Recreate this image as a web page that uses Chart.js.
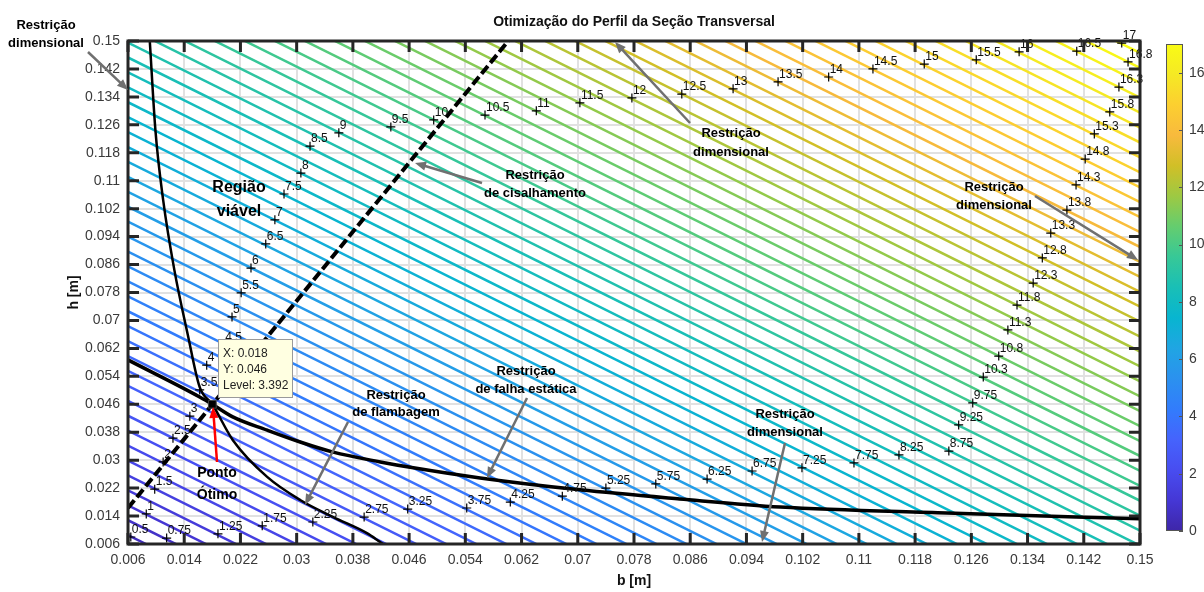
<!DOCTYPE html>
<html>
<head>
<meta charset="utf-8">
<script src="https://cdn.jsdelivr.net/npm/chart.js@4.4.1/dist/chart.umd.min.js"></script>
<style>
  html, body { margin: 0; padding: 0; background: #fff; }
  #wrap { position: relative; width: 1204px; height: 592px; }
  #main { position: absolute; left: 0; top: 0; }
  #cbar { position: absolute; left: 1150px; top: 0; }
</style>
</head>
<body>
<div id="wrap">
  <canvas id="main" width="1204" height="592"></canvas>
  <canvas id="cbar" width="54" height="592"></canvas>
</div>
<script>
// axis ticks
const xTicks = [0.006, 0.014, 0.022, 0.03, 0.038, 0.046, 0.054, 0.062, 0.07, 0.078, 0.086, 0.094, 0.102, 0.11, 0.118, 0.126, 0.134, 0.142, 0.15];
const yTicks = [0.006, 0.014, 0.022, 0.03, 0.038, 0.046, 0.054, 0.062, 0.07, 0.078, 0.086, 0.094, 0.102, 0.11, 0.118, 0.126, 0.134, 0.142, 0.15];
const cbTicks = [0, 2, 4, 6, 8, 10, 12, 14, 16];

// contour levels
const levels = [0.5, 0.75, 1, 1.25, 1.5, 1.75, 2, 2.25, 2.5, 2.75, 3, 3.25, 3.5, 3.75, 4, 4.25, 4.5, 4.75,
  5, 5.25, 5.5, 5.75, 6, 6.25, 6.5, 6.75, 7, 7.25, 7.5, 7.75, 8, 8.25, 8.5, 8.75, 9, 9.25, 9.5, 9.75,
  10, 10.25, 10.5, 10.75, 11, 11.25, 11.5, 11.75, 12, 12.25, 12.5, 12.75, 13, 13.25, 13.5, 13.75,
  14, 14.25, 14.5, 14.75, 15, 15.25, 15.5, 15.75, 16, 16.25, 16.5, 16.75, 17];
// the contoured function is a plane: level = levelSlope * (b + h) + levelOffset
const levelSlope = 58.5;
const levelOffset = -0.35;
const colorMin = 0;
const colorMax = 17;

// contour labels (clabel)
const labelText = ['0.5', '1', '1.5', '2', '2.5', '3', '3.5', '4', '4.5', '5', '5.5', '6', '6.5', '7', '7.5', '8', '8.5', '9',
  '9.5', '10', '10.5', '11', '11.5', '12', '12.5', '13', '13.5', '14', '14.5', '15', '15.5', '16', '16.5', '17',
  '0.75', '1.25', '1.75', '2.25', '2.75', '3.25', '3.75', '4.25', '4.75', '5.25', '5.75', '6.25', '6.75', '7.25', '7.75', '8.25', '8.75',
  '9.25', '9.75', '10.3', '10.8', '11.3', '11.8', '12.3', '12.8', '13.3', '13.8', '14.3', '14.8', '15.3', '15.8', '16.3', '16.8'];
const labelB = [0.0064, 0.0086, 0.0098, 0.0110, 0.0124, 0.0148, 0.0162, 0.0172, 0.0197, 0.0208, 0.0221, 0.0235, 0.0256, 0.0269, 0.0282, 0.0306, 0.0319, 0.0360,
  0.0434, 0.0495, 0.0568, 0.0641, 0.0703, 0.0777, 0.0848, 0.0921, 0.0985, 0.1057, 0.1120, 0.1193, 0.1267, 0.1328, 0.1410, 0.1474,
  0.0115, 0.0188, 0.0251, 0.0323, 0.0396, 0.0458, 0.0542, 0.0604, 0.0678, 0.0740, 0.0811, 0.0884, 0.0948, 0.1019, 0.1093, 0.1157, 0.1228,
  0.1242, 0.1262, 0.1277, 0.1299, 0.1312, 0.1325, 0.1348, 0.1361, 0.1373, 0.1396, 0.1409, 0.1422, 0.1435, 0.1457, 0.1470, 0.1483];
const labelH = [0.0080, 0.0146, 0.0217, 0.0295, 0.0363, 0.0426, 0.0501, 0.0572, 0.0632, 0.0710, 0.0779, 0.0850, 0.0919, 0.0988, 0.1062, 0.1122, 0.1199, 0.1237,
  0.1254, 0.1274, 0.1288, 0.1300, 0.1323, 0.1337, 0.1348, 0.1363, 0.1383, 0.1397, 0.1420, 0.1434, 0.1446, 0.1469, 0.1471, 0.1494,
  0.0077, 0.0089, 0.0112, 0.0123, 0.0137, 0.0160, 0.0163, 0.0180, 0.0197, 0.0220, 0.0232, 0.0246, 0.0269, 0.0278, 0.0292, 0.0315, 0.0326,
  0.0401, 0.0464, 0.0538, 0.0598, 0.0673, 0.0744, 0.0807, 0.0879, 0.0950, 0.1016, 0.1088, 0.1162, 0.1234, 0.1297, 0.1368, 0.1440];

// constraint curves
const shearB = [0.006, 0.0601];
const shearH = [0.0163, 0.15];
const bucklingB = [0.0091, 0.0099, 0.0110, 0.0126, 0.0145, 0.0162, 0.0180, 0.0209, 0.0258, 0.0305, 0.0352, 0.0400, 0.0423, 0.0440];
const bucklingH = [0.1500, 0.1245, 0.1045, 0.0844, 0.0660, 0.0509, 0.0460, 0.0358, 0.0252, 0.0186, 0.0137, 0.0091, 0.0060, 0.0040];
const staticB = [0.006, 0.0162, 0.0180, 0.0209, 0.0258, 0.0305, 0.0352, 0.0419, 0.0466, 0.0561, 0.0703, 0.0845, 0.0988, 0.1225, 0.150];
const staticH = [0.0587, 0.0481, 0.0460, 0.0424, 0.0386, 0.0352, 0.0323, 0.0295, 0.0278, 0.0249, 0.0215, 0.0189, 0.0166, 0.0149, 0.0132];

// optimum
const optB = 0.018;
const optH = 0.046;
const optLevel = 3.392;

// parula colormap stops
const parula = [
  [0.2422, 0.1504, 0.6603], [0.2706, 0.2147, 0.8364], [0.2813, 0.3006, 0.9414], [0.2699, 0.3892, 0.9906],
  [0.1963, 0.4847, 0.9892], [0.1687, 0.5703, 0.9359], [0.1248, 0.6459, 0.8883], [0.0297, 0.7082, 0.8163],
  [0.0964, 0.7500, 0.7120], [0.2161, 0.7843, 0.5923], [0.3909, 0.8029, 0.4354], [0.6174, 0.7876, 0.2612],
  [0.8203, 0.7498, 0.1535], [0.9728, 0.7298, 0.2394], [0.9892, 0.8136, 0.1885], [0.9597, 0.9135, 0.1423],
  [0.9769, 0.9839, 0.0805]
];

function parulaColor(t) {
  t = Math.max(0, Math.min(1, t));
  const p = t * (parula.length - 1);
  const i = Math.min(parula.length - 2, Math.floor(p));
  const f = p - i;
  const c = parula[i].map((v, k) => Math.round(255 * (v + (parula[i + 1][k] - v) * f)));
  return `rgb(${c[0]},${c[1]},${c[2]})`;
}

const FONT = '"Liberation Sans", Arial, Helvetica, sans-serif';
const AXIS_COLOR = '#262626';
const TICK_TEXT = '#3a3a3a';

// annotations (figure text + arrows, in pixels)
const notes = [
  { lines: ['Restrição', 'dimensional'], x: 46, y: [25, 43], arrow: [88, 52, 128, 90] },
  { lines: ['Restrição', 'dimensional'], x: 731, y: [133, 152], arrow: [690, 123, 615, 42] },
  { lines: ['Restrição', 'de cisalhamento'], x: 535, y: [175, 193], arrow: [482, 183, 415, 163] },
  { lines: ['Restrição', 'dimensional'], x: 994, y: [187, 205], arrow: [1035, 196, 1138, 260] },
  { lines: ['Restrição', 'de falha estática'], x: 526, y: [371, 389], arrow: [527, 398, 487, 478] },
  { lines: ['Restrição', 'de flambagem'], x: 396, y: [395, 412], arrow: [348, 422, 305, 505] },
  { lines: ['Restrição', 'dimensional'], x: 785, y: [414, 432], arrow: [785, 443, 762, 542] },
  { lines: ['Ponto', 'Ótimo'], x: 217, y: [473, 495], size: 14, arrow: [217, 462, 213, 407], color: '#ff0000' },
  { lines: ['Região', 'viável'], x: 239, y: [188, 212], size: 16 }
];

function drawArrow(ctx, x1, y1, x2, y2, color) {
  const a = Math.atan2(y2 - y1, x2 - x1);
  const len = 11, w = 4.5;
  ctx.save();
  ctx.strokeStyle = color;
  ctx.fillStyle = color;
  ctx.lineWidth = 2.5;
  ctx.beginPath();
  ctx.moveTo(x1, y1);
  ctx.lineTo(x2 - Math.cos(a) * len * 0.8, y2 - Math.sin(a) * len * 0.8);
  ctx.stroke();
  ctx.beginPath();
  ctx.moveTo(x2, y2);
  ctx.lineTo(x2 - Math.cos(a) * len - Math.sin(a) * w, y2 - Math.sin(a) * len + Math.cos(a) * w);
  ctx.lineTo(x2 - Math.cos(a) * len + Math.sin(a) * w, y2 - Math.sin(a) * len - Math.cos(a) * w);
  ctx.closePath();
  ctx.fill();
  ctx.restore();
}

const toPts = (bs, hs) => bs.map((b, i) => ({ x: b, y: hs[i] }));

// one straight line per level, end points on b = 0 and h = 0 (clipped by the axes)
const contourSets = levels.map(L => {
  const s = (L - levelOffset) / levelSlope;
  return {
    data: [{ x: 0, y: s }, { x: s, y: 0 }],
    showLine: true,
    pointRadius: 0,
    borderColor: parulaColor((L - colorMin) / (colorMax - colorMin)),
    borderWidth: 2.5
  };
});

const overlay = {
  id: 'overlay',
  afterDraw(chart) {
    const { ctx, chartArea: ca, scales: { x, y } } = chart;
    ctx.save();

    // contour label texts
    ctx.beginPath();
    ctx.rect(ca.left, ca.top - 12, ca.right - ca.left + 20, ca.bottom - ca.top + 12);
    ctx.clip();
    ctx.font = '12px ' + FONT;
    ctx.fillStyle = '#111';
    ctx.textAlign = 'left';
    ctx.textBaseline = 'middle';
    labelText.forEach((t, i) => {
      ctx.fillText(t, x.getPixelForValue(labelB[i]) + 1, y.getPixelForValue(labelH[i]) - 7);
    });
    ctx.restore();
    ctx.save();

    // axes box and inward ticks
    ctx.strokeStyle = AXIS_COLOR;
    ctx.lineWidth = 3;
    ctx.strokeRect(ca.left, ca.top, ca.right - ca.left, ca.bottom - ca.top);
    ctx.beginPath();
    xTicks.forEach(v => {
      const px = x.getPixelForValue(v);
      ctx.moveTo(px, ca.bottom); ctx.lineTo(px, ca.bottom - 11);
      ctx.moveTo(px, ca.top); ctx.lineTo(px, ca.top + 11);
    });
    yTicks.forEach(v => {
      const py = y.getPixelForValue(v);
      ctx.moveTo(ca.left, py); ctx.lineTo(ca.left + 11, py);
      ctx.moveTo(ca.right, py); ctx.lineTo(ca.right - 11, py);
    });
    ctx.stroke();

    // title
    ctx.font = 'bold 14px ' + FONT;
    ctx.fillStyle = '#111';
    ctx.textAlign = 'center';
    ctx.textBaseline = 'middle';
    ctx.fillText('Otimização do Perfil da Seção Transversal', (ca.left + ca.right) / 2, 22);

    // annotations
    notes.forEach(n => {
      ctx.font = 'bold ' + (n.size || 13) + 'px ' + FONT;
      ctx.fillStyle = '#000';
      ctx.textAlign = 'center';
      ctx.textBaseline = 'middle';
      n.lines.forEach((t, i) => ctx.fillText(t, n.x, n.y[i]));
      if (n.arrow) drawArrow(ctx, n.arrow[0], n.arrow[1], n.arrow[2], n.arrow[3], n.color || '#707070');
    });

    // data tip
    const bx = 218, by = 339, bw = 74, bh = 58;
    ctx.fillStyle = '#ffffe1';
    ctx.strokeStyle = '#9a9a9a';
    ctx.lineWidth = 1;
    ctx.fillRect(bx, by, bw, bh);
    ctx.strokeRect(bx + 0.5, by + 0.5, bw, bh);
    ctx.font = '12px ' + FONT;
    ctx.fillStyle = '#222';
    ctx.textAlign = 'left';
    ctx.fillText('X: ' + optB, bx + 5, by + 15);
    ctx.fillText('Y: ' + optH, bx + 5, by + 31);
    ctx.fillText('Level: ' + optLevel, bx + 5, by + 47);
    ctx.restore();
  }
};

const tickFont = { family: FONT, size: 14 };
const fmt = v => String(+Number(v).toFixed(3));

new Chart(document.getElementById('main'), {
  type: 'scatter',
  data: {
    datasets: [
      { data: [{ x: optB, y: optH }], pointStyle: 'rect', pointRadius: 5.5, backgroundColor: '#000', borderColor: '#444', borderWidth: 1 },
      { data: toPts(labelB, labelH), pointStyle: 'cross', pointRadius: 4.5, borderColor: '#000', borderWidth: 1.2 },
      { data: toPts(shearB, shearH), showLine: true, pointRadius: 0, borderColor: '#000', borderWidth: 4, borderDash: [10, 4] },
      { data: toPts(bucklingB, bucklingH), showLine: true, pointRadius: 0, borderColor: '#000', borderWidth: 2.5, cubicInterpolationMode: 'monotone' },
      { data: toPts(staticB, staticH), showLine: true, pointRadius: 0, borderColor: '#000', borderWidth: 3.5, cubicInterpolationMode: 'monotone' },
      ...contourSets
    ]
  },
  options: {
    responsive: false,
    animation: false,
    devicePixelRatio: 1,
    layout: { padding: { top: 41, right: 64, bottom: 0, left: 0 } },
    plugins: { legend: { display: false }, tooltip: { enabled: false } },
    scales: {
      x: {
        type: 'linear', min: 0.006, max: 0.15,
        afterBuildTicks: s => { s.ticks = xTicks.map(v => ({ value: v })); },
        afterFit: s => { s.height = 48; },
        ticks: { font: tickFont, color: TICK_TEXT, padding: 8, maxRotation: 0, autoSkip: false, callback: fmt },
        grid: { color: '#e1e1e1', lineWidth: 2, drawTicks: false },
        border: { display: false },
        title: { display: true, text: 'b [m]', color: '#111', font: { family: FONT, size: 14, weight: 'bold' }, padding: { top: 0, bottom: 2 } }
      },
      y: {
        type: 'linear', min: 0.006, max: 0.15,
        afterBuildTicks: s => { s.ticks = yTicks.map(v => ({ value: v })); },
        afterFit: s => { s.width = 128; },
        ticks: { font: tickFont, color: TICK_TEXT, padding: 8, autoSkip: false, callback: fmt },
        grid: { color: '#e1e1e1', lineWidth: 2, drawTicks: false },
        border: { display: false },
        title: { display: true, text: 'h [m]', color: '#111', font: { family: FONT, size: 14, weight: 'bold' }, padding: { top: 66, bottom: 0 } }
      }
    }
  },
  plugins: [overlay]
});

// colorbar
const cbFrame = {
  id: 'cbFrame',
  afterDraw(chart) {
    const { ctx, chartArea: ca, scales: { y } } = chart;
    ctx.save();
    ctx.strokeStyle = '#555';
    ctx.lineWidth = 1;
    ctx.strokeRect(ca.left + 0.5, ca.top + 0.5, ca.right - ca.left - 1, ca.bottom - ca.top - 1);
    ctx.beginPath();
    cbTicks.forEach(v => {
      const py = Math.round(y.getPixelForValue(v)) + 0.5;
      ctx.moveTo(ca.right, py); ctx.lineTo(ca.right - 4, py);
    });
    ctx.stroke();
    ctx.restore();
  }
};

new Chart(document.getElementById('cbar'), {
  type: 'bar',
  data: {
    labels: ['level'],
    datasets: [{
      data: [[colorMin, colorMax]],
      barPercentage: 1,
      categoryPercentage: 1,
      borderWidth: 0,
      backgroundColor: c => {
        const { ctx, chartArea } = c.chart;
        if (!chartArea) return '#888';
        const g = ctx.createLinearGradient(0, chartArea.bottom, 0, chartArea.top);
        parula.forEach((p, i) => g.addColorStop(i / (parula.length - 1), parulaColor(i / (parula.length - 1))));
        return g;
      }
    }]
  },
  options: {
    responsive: false,
    animation: false,
    devicePixelRatio: 1,
    layout: { padding: { top: 44, right: 0, bottom: 61, left: 16 } },
    plugins: { legend: { display: false }, tooltip: { enabled: false } },
    scales: {
      x: { display: false },
      y: {
        position: 'right', min: colorMin, max: colorMax,
        afterBuildTicks: s => { s.ticks = cbTicks.map(v => ({ value: v })); },
        afterFit: s => { s.width = 21; },
        ticks: { font: tickFont, color: TICK_TEXT, padding: 6 },
        grid: { display: false, drawTicks: false },
        border: { display: false }
      }
    }
  },
  plugins: [cbFrame]
});
</script>
</body>
</html>
